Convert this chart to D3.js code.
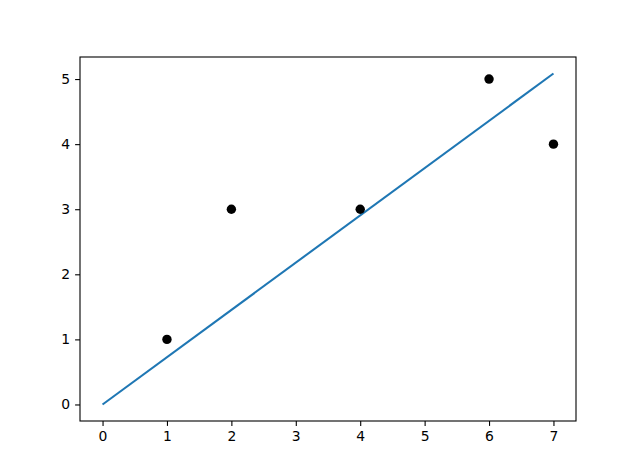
<!DOCTYPE html>
<html><head><meta charset="utf-8">
<script src="https://cdn.jsdelivr.net/npm/d3@7"></script>
<style>body{margin:0;background:#fff}svg{display:block}</style>
</head><body>
<script>
const pointX = [1, 2, 4, 6, 7];
const pointY = [1, 3, 3, 5, 4];
const lineX = [0, 7];
const lineY = [0, 5.085];
const xTicks = [0, 1, 2, 3, 4, 5, 6, 7];
const yTicks = [0, 1, 2, 3, 4, 5];

const W = 640, H = 473;
const m = {left: 80, right: 576, top: 57, bottom: 421};
const svg = d3.select("body").append("svg").attr("width", W).attr("height", H);
const x = d3.scaleLinear().domain([-0.35, 7.35]).range([m.left, m.right]);
const y = d3.scaleLinear().domain([-0.254, 5.339]).range([m.bottom, m.top]);

const fontSize = "13.9px";
const xAxis = svg.append("g").attr("transform", `translate(0,${m.bottom})`)
  .call(d3.axisBottom(x).tickValues(xTicks).tickFormat(d3.format("d")).tickSize(4.9).tickPadding(4.9));
const yAxis = svg.append("g").attr("transform", `translate(${m.left},0)`)
  .call(d3.axisLeft(y).tickValues(yTicks).tickFormat(d3.format("d")).tickSize(4.9).tickPadding(4.9));
[xAxis, yAxis].forEach(a => {
  a.select(".domain").remove();
  a.selectAll("text").attr("font-family", "DejaVu Sans").attr("font-size", fontSize).attr("fill", "#000");
  a.selectAll("line").attr("stroke", "#000").attr("stroke-width", 1.1);
});

const line = d3.line().x(d => x(d[0])).y(d => y(d[1]));
svg.append("path").datum(lineX.map((v, i) => [v, lineY[i]]))
  .attr("d", line).attr("fill", "none").attr("stroke", "#1f77b4").attr("stroke-width", 2.08);

svg.selectAll("circle.pt").data(pointX.map((v, i) => [v, pointY[i]])).enter()
  .append("circle").attr("class", "pt")
  .attr("cx", d => x(d[0])).attr("cy", d => y(d[1])).attr("r", 4.7).attr("fill", "#000");

svg.append("rect").attr("x", m.left).attr("y", m.top)
  .attr("width", m.right - m.left).attr("height", m.bottom - m.top)
  .attr("fill", "none").attr("stroke", "#000").attr("stroke-width", 1.1);
</script>
</body></html>
